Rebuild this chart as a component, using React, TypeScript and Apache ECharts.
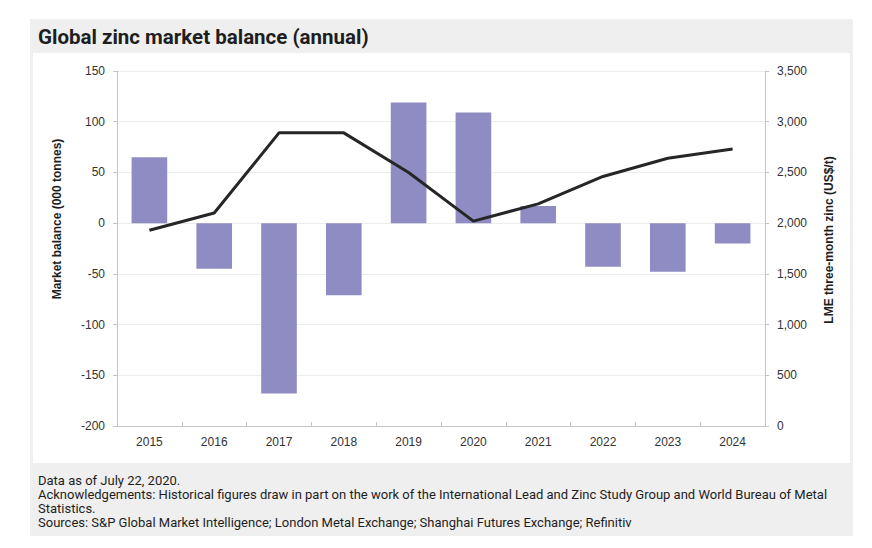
import React, { useEffect, useRef } from "react";
import * as echarts from "echarts";

const years = ["2015", "2016", "2017", "2018", "2019", "2020", "2021", "2022", "2023", "2024"];
const balance = [65, -45, -168, -71, 119, 109, 17, -43, -48, -20];
const lmePrice = [1930, 2100, 2890, 2890, 2500, 2020, 2190, 2460, 2640, 2730];

const titleText = "Global zinc market balance (annual)";
const leftAxisName = "Market balance (000 tonnes)";
const rightAxisName = "LME three-month zinc (US$/t)";
const footerLines = [
  "Data as of July 22, 2020.",
  "Acknowledgements: Historical figures draw in part on the work of the International Lead and Zinc Study Group and World Bureau of Metal",
  "Statistics.",
  "Sources: S&P Global Market Intelligence; London Metal Exchange; Shanghai Futures Exchange; Refinitiv",
];

const condensed = "Roboto, sans-serif";
const sans = "'Liberation Sans', Arial, sans-serif";

export default function App() {
  const ref = useRef<HTMLDivElement>(null);
  useEffect(() => {
    document.body.style.margin = "0";
    const chart = echarts.init(ref.current!, null, { renderer: "svg" });
    const axisGray = "#c4c4c4";
    chart.setOption({
      animation: false,
      backgroundColor: "#ffffff",
      grid: { left: 117, right: 107, top: 71, bottom: 122, containLabel: false },
      graphic: [
        { type: "rect", z: -10, shape: { x: 30, y: 19, width: 823, height: 517 }, style: { fill: "#efefef" }, silent: true },
        { type: "rect", z: -9, shape: { x: 33, y: 53, width: 817, height: 410 }, style: { fill: "#ffffff" }, silent: true },
        {
          type: "text", x: 38, y: 37,
          style: {
            text: titleText, fontFamily: condensed, fontSize: 20.5, fontWeight: "bold",
            fill: "#1e1e1e", verticalAlign: "middle", align: "left",
          },
        },
        {
          type: "text", x: 57, y: 219, rotation: Math.PI / 2,
          style: {
            text: leftAxisName, fontFamily: sans, fontSize: 12, fontWeight: "bold",
            fill: "#1e1e1e", align: "center", verticalAlign: "middle",
          },
        },
        {
          type: "text", x: 829, y: 240, rotation: Math.PI / 2,
          style: {
            text: rightAxisName, fontFamily: sans, fontSize: 12, fontWeight: "bold",
            fill: "#1e1e1e", align: "center", verticalAlign: "middle",
          },
        },
        ...footerLines.map((t, i) => ({
          type: "text", x: 38, y: 480 + i * 14.2,
          style: {
            text: t, fontFamily: condensed, fontSize: 13, fill: "#1e1e1e",
            verticalAlign: "middle", align: "left",
          },
        })),
      ],
      xAxis: [
        {
          type: "category", data: years, position: "bottom",
          axisLine: { show: false }, axisTick: { show: false },
          axisLabel: { color: "#333", fontFamily: sans, fontSize: 12, margin: 10 },
          splitLine: { show: false },
        },
        {
          type: "category", data: years, gridIndex: 0,
          axisLine: { show: true, onZero: true, lineStyle: { color: axisGray, width: 1 } },
          axisTick: { show: true, inside: false, length: 4, lineStyle: { color: axisGray } },
          axisLabel: { show: false },
          splitLine: { show: false },
        },
      ],
      yAxis: [
        {
          type: "value", min: -200, max: 150, interval: 50,
          axisLine: { show: true, lineStyle: { color: axisGray } },
          axisTick: { show: true, length: 4, lineStyle: { color: axisGray } },
          axisLabel: { color: "#333", fontFamily: sans, fontSize: 12, margin: 12 },
          splitLine: { show: true, lineStyle: { color: "#ececec", width: 1 } },
        },
        {
          type: "value", min: 0, max: 3500, interval: 500, position: "right",
          axisLine: { show: true, lineStyle: { color: axisGray } },
          axisTick: { show: true, length: 4, lineStyle: { color: axisGray } },
          axisLabel: {
            color: "#333", fontFamily: sans, fontSize: 12, margin: 12,
            formatter: (v: number) => v.toLocaleString("en-US"),
          },
          splitLine: { show: false },
        },
      ],
      series: [
        {
          type: "bar", name: "Market balance", data: balance, xAxisIndex: 0, yAxisIndex: 0,
          barWidth: "55%", itemStyle: { color: "#8f8bc3" },
        },
        {
          type: "line", name: "LME", data: lmePrice, xAxisIndex: 0, yAxisIndex: 1,
          symbol: "none", lineStyle: { color: "#262626", width: 3 }, z: 5,
        },
      ],
    });
    return () => chart.dispose();
  }, []);
  return <div ref={ref} style={{ width: 872, height: 548 }} />;
}
